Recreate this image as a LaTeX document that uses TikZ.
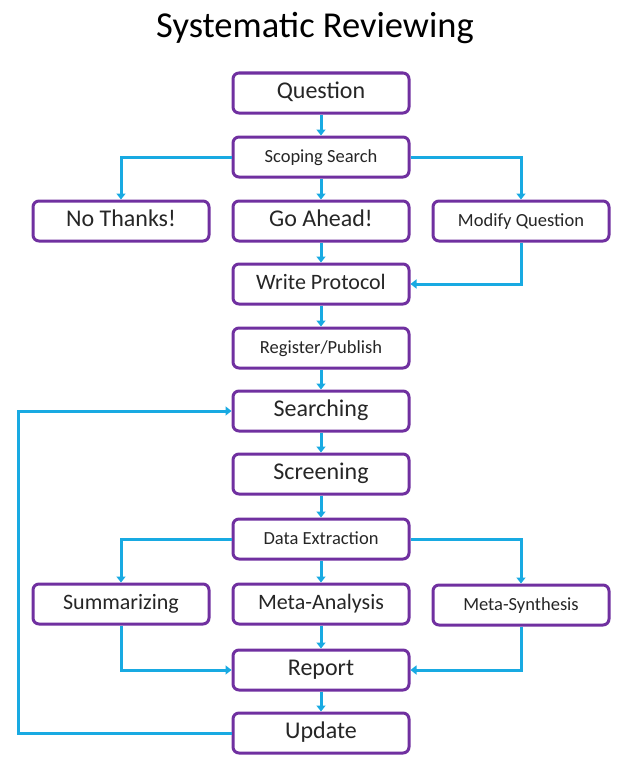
\documentclass[tikz,border=0pt]{standalone}
\usepackage{fontspec}
\setmainfont{Carlito}
\usetikzlibrary{arrows.meta}
\definecolor{boxpurple}{RGB}{112,48,160}
\definecolor{arrowblue}{RGB}{24,170,226}
\tikzset{
  stepbox/.style={draw=boxpurple, line width=3pt, rounded corners=6pt, fill=white,
    minimum width=176pt, minimum height=40pt, inner sep=0pt, text=black!85, anchor=center,
    text height=1.15em, text depth=0pt},
  big/.style={font=\fontsize{24}{28}\selectfont},
  mid/.style={font=\fontsize{22}{26}\selectfont},
  small/.style={font=\fontsize{18.5}{22}\selectfont},
  conn/.style={draw=arrowblue, line width=3pt, -{Triangle[width=9pt,length=6pt]}}
}
\begin{document}
\begin{tikzpicture}[x=1pt,y=-1pt]
\useasboundingbox (0,0) rectangle (625,760);
\node[font=\fontsize{36.5}{40}\selectfont, text=black] (title) at (315,28) {Systematic Reviewing};
\node[stepbox,big] (q) at (321,93) {Question};
\node[stepbox,small] (ss) at (321,157) {Scoping Search};
\node[stepbox,big] (nt) at (121,221) {No Thanks!};
\node[stepbox,big] (ga) at (321,221) {Go Ahead!};
\node[stepbox,small] (mq) at (521,221) {Modify Question};
\node[stepbox,mid] (wp) at (321,284) {Write Protocol};
\node[stepbox,small] (rp) at (321,348) {Register/Publish};
\node[stepbox,big] (se) at (321,411) {Searching};
\node[stepbox,big] (sc) at (321,474) {Screening};
\node[stepbox,small] (de) at (321,539) {Data Extraction};
\node[stepbox,mid] (su) at (121,604) {Summarizing};
\node[stepbox,mid] (ma) at (321,604) {Meta-Analysis};
\node[stepbox,small] (ms) at (521,605) {Meta-Synthesis};
\node[stepbox,big] (re) at (321,670) {Report};
\node[stepbox,big] (up) at (321,733) {Update};
\coordinate (loop) at (18,0);
\draw[conn] (q) -- (ss);
\draw[conn] (ss) -- (ga);
\draw[conn] (ss.west) -| (nt.north);
\draw[conn] (ss.east) -| (mq.north);
\draw[conn] (ga) -- (wp);
\draw[conn] (mq.south) |- (wp.east);
\draw[conn] (wp) -- (rp);
\draw[conn] (rp) -- (se);
\draw[conn] (se) -- (sc);
\draw[conn] (sc) -- (de);
\draw[conn] (de) -- (ma);
\draw[conn] (de.west) -| (su.north);
\draw[conn] (de.east) -| (ms.north);
\draw[conn] (ma) -- (re);
\draw[conn] (su.south) |- (re.west);
\draw[conn] (ms.south) |- (re.east);
\draw[conn] (re) -- (up);
\draw[conn] (up.west) -- (up.west -| loop) -- (se.west -| loop) -- (se.west);
\end{tikzpicture}
\end{document}
